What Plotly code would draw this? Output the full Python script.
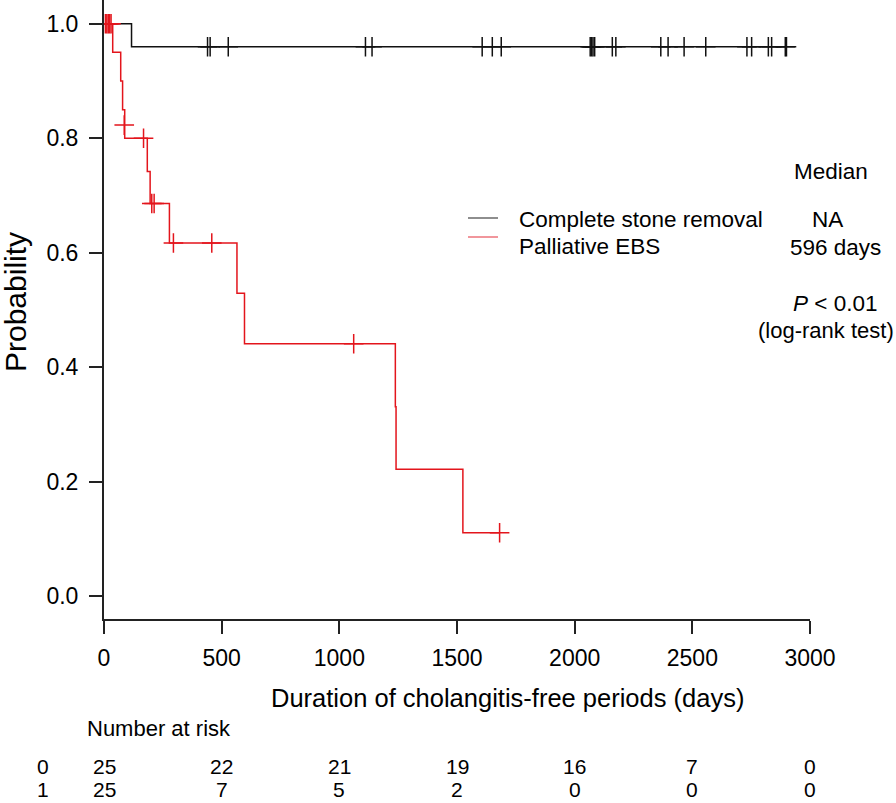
import plotly.graph_objects as go

# ---------------- data ----------------
# Complete stone removal (group 0)
g0_times = [0, 117, 2900]
g0_surv = [1.0, 0.96, 0.96]
g0_cens_t = [440, 451, 528, 1111, 1139, 1607, 1650, 1688, 2066, 2072, 2078, 2085,
             2160, 2175, 2366, 2397, 2465, 2557, 2732, 2752, 2823, 2837, 2895, 2900]
g0_cens_s = [0.96] * len(g0_cens_t)

# Palliative EBS (group 1)
g1_times = [0, 37, 71, 79, 88, 184, 196, 278, 565, 597, 1238, 1241, 1525, 1681]
g1_surv = [1.0, 0.9505, 0.900, 0.85, 0.80, 0.742, 0.686, 0.617, 0.529, 0.441,
           0.331, 0.2215, 0.1107, 0.1107]
g1_cens_t = [6, 12, 18, 24, 30, 86, 168, 203, 213, 295, 458, 1061, 1681]
g1_cens_s = [1.0, 1.0, 1.0, 1.0, 1.0, 0.823, 0.80, 0.686, 0.686, 0.617, 0.617, 0.441, 0.1107]

risk_times = [0, 500, 1000, 1500, 2000, 2500, 3000]
risk_g0 = [25, 22, 21, 19, 16, 7, 0]
risk_g1 = [25, 7, 5, 2, 0, 0, 0]

y_ticks = [0.0, 0.2, 0.4, 0.6, 0.8, 1.0]
x_ticks = [0, 500, 1000, 1500, 2000, 2500, 3000]

group_names = ["Complete stone removal", "Palliative EBS"]
group_labels = ["0", "1"]
medians = ["NA", "596 days"]

# ---------------- style ----------------
FONT = "Liberation Sans, Arial, Helvetica, sans-serif"
BLACK = "#111111"
RED = "#e3151c"
W, H = 896, 803
ML, MR, MT, MB = 104, 86, 0, 184
PW, PH = W - ML - MR, H - MT - MB


def px_x(px):
    return (px - ML) / PW


def px_y(py):
    return (H - MB - py) / PH


fig = go.Figure()

fig.add_trace(go.Scatter(x=g0_times, y=g0_surv, mode="lines", line_shape="hv",
                         line=dict(color=BLACK, width=1.5), showlegend=False))
fig.add_trace(go.Scatter(x=g0_cens_t, y=g0_cens_s, mode="markers", cliponaxis=False,
                         marker=dict(symbol="cross-thin-open", size=14, color=BLACK,
                                     line=dict(color=BLACK, width=1.5)),
                         showlegend=False))
fig.add_trace(go.Scatter(x=g1_times, y=g1_surv, mode="lines", line_shape="hv",
                         line=dict(color=RED, width=1.5), showlegend=False))
fig.add_trace(go.Scatter(x=g1_cens_t, y=g1_cens_s, mode="markers", cliponaxis=False,
                         marker=dict(symbol="cross-thin-open", size=14, color=RED,
                                     line=dict(color=RED, width=1.5)),
                         showlegend=False))

annotations = []


def txt(text, x, y, size, xanchor="center", xref="paper", angle=0):
    annotations.append(dict(text=text, x=x, y=y, xref=xref, yref="paper",
                            xanchor=xanchor, yanchor="middle", showarrow=False,
                            textangle=angle,
                            font=dict(family=FONT, size=size, color="black")))


# axis titles
txt("Duration of cholangitis-free periods (days)", px_x(507), px_y(698), 25.5)
txt("Probability", px_x(15), px_y(302), 30, angle=-90)

# legend
legend_rows_y = [218, 237]
legend_text_y = [219, 246]
legend_cols = ["#444444", "#e8505a"]
shapes = []
for i, name in enumerate(group_names):
    shapes.append(dict(type="line", xref="paper", yref="paper",
                       x0=px_x(468), x1=px_x(498),
                       y0=px_y(legend_rows_y[i]), y1=px_y(legend_rows_y[i]),
                       line=dict(color=legend_cols[i], width=1.2)))
    txt(name, px_x(517), px_y(legend_text_y[i]), 22.5, xanchor="left")

# medians & p-value
txt("Median", px_x(831), px_y(171), 22.5)
txt(medians[0], px_x(827), px_y(220), 22.5)
txt(medians[1], px_x(835), px_y(247), 22.5)
txt("<i>P</i> < 0.01", px_x(835), px_y(303), 22.5)
txt("(log-rank test)", px_x(826), px_y(330), 22)

# number at risk table
txt("Number at risk", px_x(85), px_y(728), 22, xanchor="left")
for lab, row, yy in [(group_labels[0], risk_g0, 766), (group_labels[1], risk_g1, 789)]:
    txt(lab, px_x(43), px_y(yy), 21)
    for t, n in zip(risk_times, row):
        txt(str(n), t, px_y(yy), 21, xref="x")

axis_common = dict(showline=True, linecolor="#222222", linewidth=2,
                   ticks="outside", ticklen=13, tickwidth=1.5, tickcolor="#222222",
                   showgrid=False, zeroline=False,
                   tickfont=dict(family=FONT, size=23, color="black"))

fig.update_layout(
    width=W, height=H,
    margin=dict(l=ML, r=MR, t=MT, b=MB),
    paper_bgcolor="white", plot_bgcolor="white",
    xaxis=dict(range=[0, 3000], tickvals=x_ticks, ticklabelstandoff=4, **axis_common),
    yaxis=dict(range=[-0.04, 1.0416], tickvals=y_ticks, tickformat=".1f",
               ticklabelstandoff=6, **axis_common),
    annotations=annotations,
    shapes=shapes,
    showlegend=False,
)

fig.write_html("out.html", config={"displayModeBar": False},
               post_script="document.body.style.margin='0px';")
